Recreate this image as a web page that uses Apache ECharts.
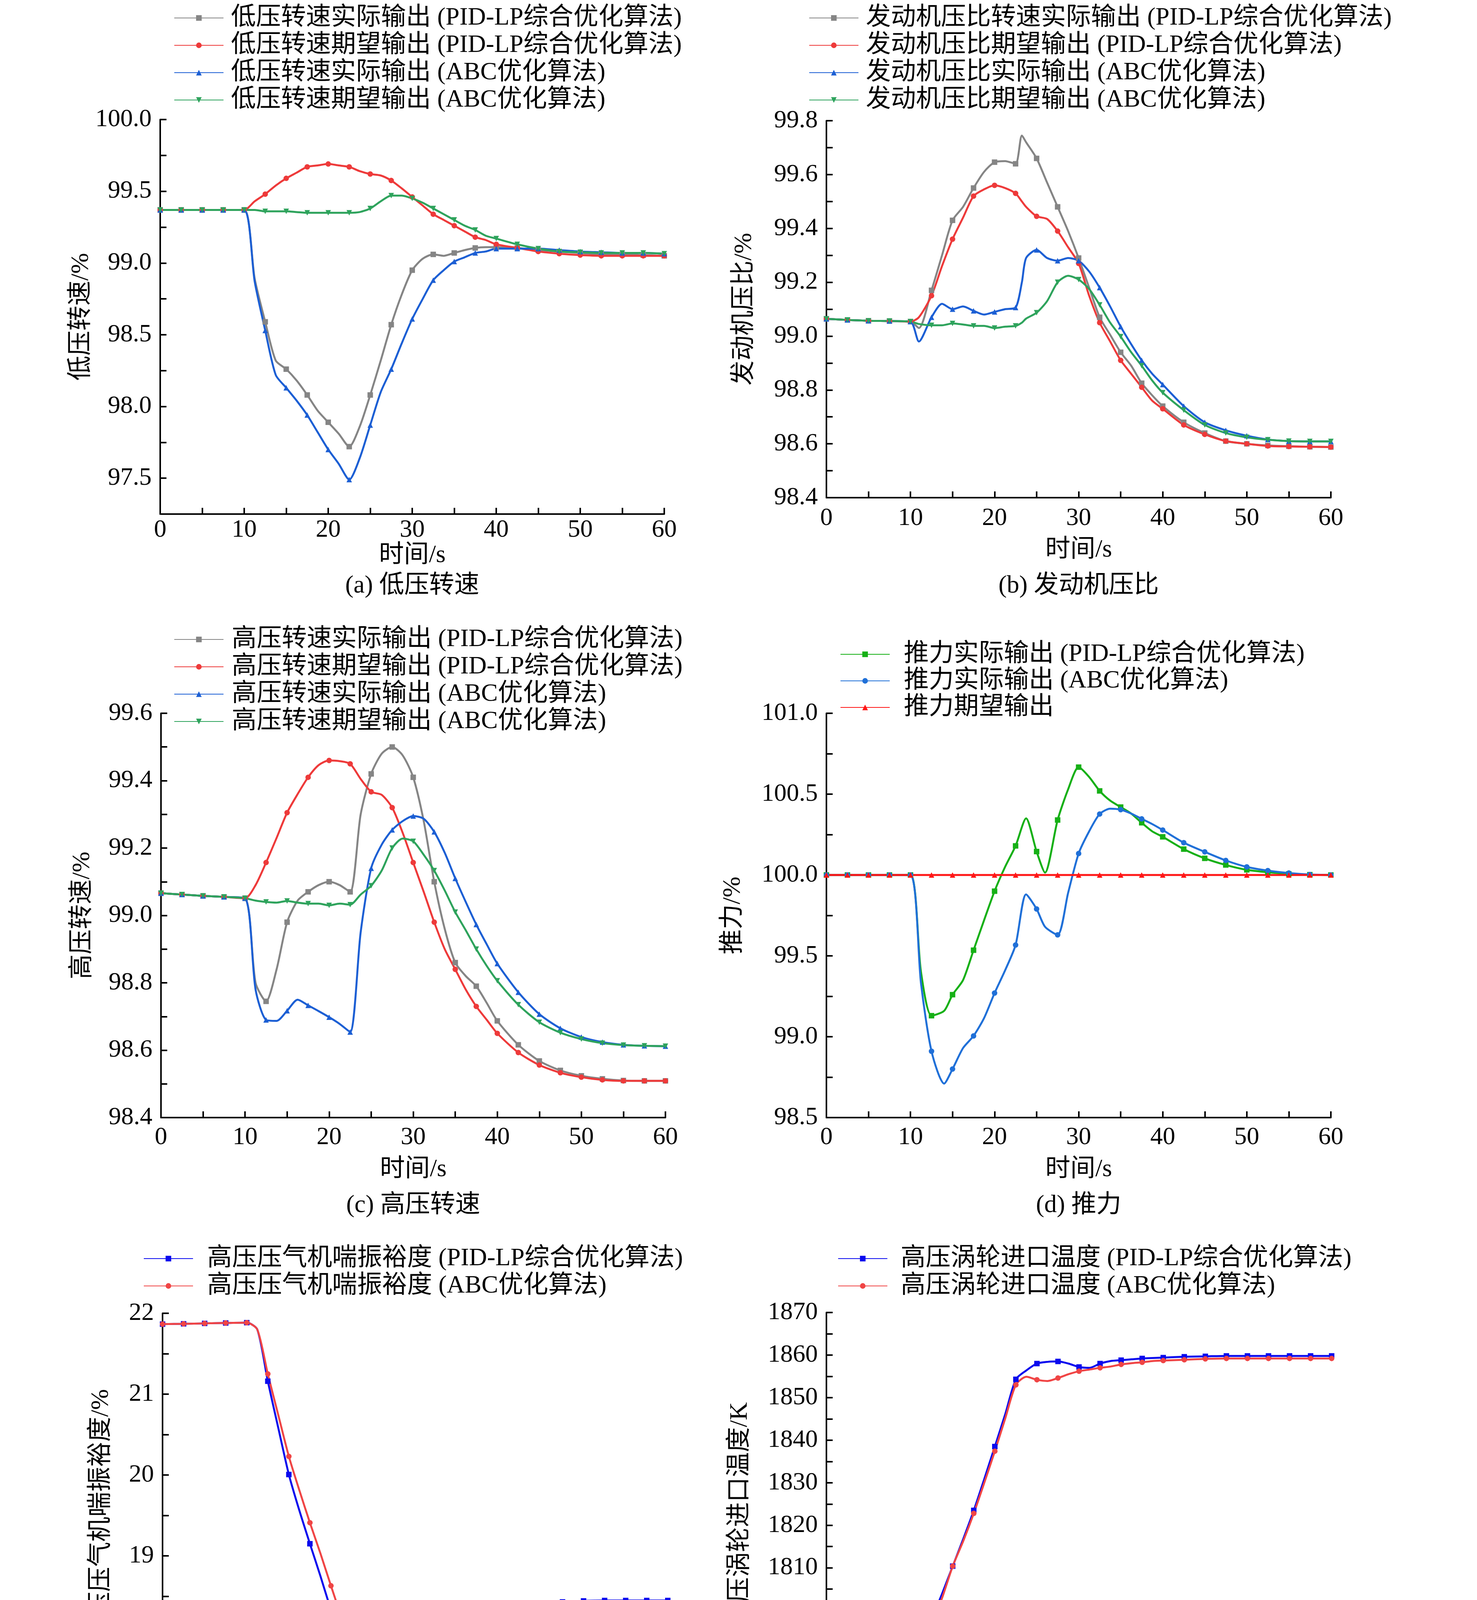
<!DOCTYPE html>
<html>
<head>
<meta charset="utf-8">
<title>控制效果对比</title>
<script src="https://cdn.jsdelivr.net/npm/echarts@6.0.0/dist/echarts.min.js"></script>
<style>
    html, body { margin: 0; padding: 0; background: #fff; }
    #main { width: 3780px; height: 7794px; }
</style>
</head>
<body>
<div id="main"></div>
<script>
    // 时间轴 (s)，符号只画在 2.5 s 的整数倍上
    var tStd = [0, 2.5, 5, 7.5, 10, 11.25, 12.5, 13.75, 15, 16.25, 17.5, 18.75, 20, 21.25, 22.5, 23.75, 25, 26.25, 27.5, 28.75, 30,
        31.25, 32.5, 33.75, 35, 36.25, 37.5, 38.75, 40, 42.5, 45, 47.5, 50, 52.5, 55, 57.5, 60];
    var tB = [0, 2.5, 5, 7.5, 10, 11, 12.5, 13.75, 15, 16.25, 17.5, 18.75, 20, 21.25, 22.5, 23.25, 23.75, 25, 26.25, 27.5, 28.75, 30,
        31.25, 32.5, 33.75, 35, 36.25, 37.5, 38.75, 40, 42.5, 45, 47.5, 50, 52.5, 55, 57.5, 60];
    var tD = [0, 2.5, 5, 7.5, 10, 11.25, 12.5, 14, 15, 16.25, 17.5, 18.75, 20, 21.25, 22.5, 23.75, 25, 26, 27.5, 28.75, 30,
        31.25, 32.5, 33.75, 35, 36.25, 37.5, 38.75, 40, 42.5, 45, 47.5, 50, 52.5, 55, 57.5, 60];
    var tE = [0, 2.5, 5, 7.5, 10, 11.25, 12.5, 13.75, 15, 16.25, 17.5, 18.75, 20, 21.25, 22.5, 23.25, 25, 26.25, 27.5, 28.75, 30,
        31.25, 32.5, 33.75, 35, 36.25, 37.5, 38.75, 40, 42.5, 45, 47.5, 50, 52.5, 55, 57.5, 60];

    // (a) 低压转速
    var aGray = [99.37, 99.37, 99.37, 99.37, 99.37, 98.89, 98.59, 98.32, 98.26, 98.18, 98.08, 97.97, 97.89, 97.81, 97.72, 97.86, 98.08, 98.32, 98.57, 98.78, 98.95,
        99.03, 99.06, 99.05, 99.07, 99.09, 99.105, 99.11, 99.11, 99.105, 99.09, 99.08, 99.07, 99.06, 99.06, 99.055, 99.05];
    var aRed = [99.37, 99.37, 99.37, 99.37, 99.37, 99.43, 99.48, 99.54, 99.59, 99.63, 99.67, 99.68, 99.69, 99.68, 99.67, 99.64, 99.62, 99.61, 99.575, 99.52, 99.46,
        99.40, 99.34, 99.30, 99.26, 99.22, 99.18, 99.16, 99.13, 99.105, 99.08, 99.065, 99.055, 99.05, 99.05, 99.05, 99.05];
    var aBlue = [99.37, 99.37, 99.37, 99.37, 99.37, 98.87, 98.53, 98.22, 98.13, 98.04, 97.94, 97.82, 97.70, 97.60, 97.49, 97.64, 97.87, 98.10, 98.26, 98.44, 98.61,
        98.75, 98.88, 98.95, 99.01, 99.04, 99.07, 99.08, 99.10, 99.10, 99.10, 99.09, 99.08, 99.075, 99.07, 99.07, 99.065];
    var aGreen = [99.37, 99.37, 99.37, 99.37, 99.37, 99.37, 99.36, 99.36, 99.36, 99.355, 99.35, 99.35, 99.35, 99.35, 99.35, 99.355, 99.38, 99.43, 99.47, 99.47, 99.45,
        99.42, 99.38, 99.34, 99.30, 99.26, 99.23, 99.19, 99.17, 99.13, 99.10, 99.08, 99.075, 99.07, 99.07, 99.07, 99.065];

    // (b) 发动机压比
    var bGray = [99.064, 99.06, 99.057, 99.056, 99.054, 99.03, 99.17, 99.30, 99.43, 99.48, 99.55, 99.61, 99.646, 99.65, 99.64, 99.745, 99.72, 99.66, 99.57, 99.48, 99.39, 99.29,
        99.18, 99.07, 99.005, 98.94, 98.89, 98.825, 98.78, 98.74, 98.68, 98.64, 98.61, 98.60, 98.594, 98.591, 98.589, 98.588];
    var bRed = [99.064, 99.06, 99.057, 99.056, 99.054, 99.07, 99.15, 99.26, 99.36, 99.44, 99.52, 99.545, 99.56, 99.55, 99.53, 99.50, 99.48, 99.445, 99.435, 99.39, 99.33, 99.27,
        99.15, 99.05, 98.98, 98.91, 98.86, 98.81, 98.76, 98.73, 98.67, 98.635, 98.61, 98.60, 98.592, 98.59, 98.589, 98.588];
    var bBlue = [99.064, 99.06, 99.057, 99.056, 99.054, 98.98, 99.07, 99.12, 99.10, 99.11, 99.094, 99.08, 99.09, 99.10, 99.106, 99.20, 99.29, 99.32, 99.29, 99.28, 99.29, 99.28,
        99.24, 99.18, 99.11, 99.035, 98.97, 98.91, 98.86, 98.82, 98.74, 98.68, 98.65, 98.63, 98.616, 98.61, 98.609, 98.609];
    var bGreen = [99.064, 99.06, 99.057, 99.056, 99.054, 99.045, 99.04, 99.04, 99.047, 99.043, 99.038, 99.038, 99.03, 99.035, 99.038, 99.05, 99.065, 99.087, 99.13, 99.20, 99.224, 99.21,
        99.175, 99.116, 99.05, 98.998, 98.94, 98.89, 98.835, 98.79, 98.725, 98.67, 98.64, 98.624, 98.615, 98.61, 98.609, 98.609];

    // (c) 高压转速
    var cGray = [99.066, 99.062, 99.058, 99.055, 99.051, 98.80, 98.745, 98.84, 98.98, 99.044, 99.07, 99.09, 99.10, 99.09, 99.07, 99.30, 99.42, 99.48, 99.50, 99.475, 99.41,
        99.28, 99.10, 98.96, 98.86, 98.82, 98.79, 98.74, 98.687, 98.616, 98.568, 98.54, 98.524, 98.515, 98.51, 98.509, 98.509];
    var cRed = [99.066, 99.062, 99.058, 99.055, 99.051, 99.09, 99.157, 99.23, 99.305, 99.36, 99.41, 99.446, 99.46, 99.458, 99.45, 99.405, 99.367, 99.358, 99.32, 99.245, 99.157,
        99.07, 98.98, 98.90, 98.84, 98.78, 98.73, 98.69, 98.65, 98.593, 98.556, 98.533, 98.52, 98.512, 98.509, 98.509, 98.509];
    var cBlue = [99.066, 99.062, 99.058, 99.055, 99.051, 98.78, 98.69, 98.687, 98.717, 98.75, 98.733, 98.716, 98.698, 98.678, 98.654, 98.95, 99.14, 99.21, 99.254, 99.28, 99.295,
        99.287, 99.248, 99.186, 99.11, 99.04, 98.973, 98.914, 98.857, 98.772, 98.707, 98.665, 98.639, 98.624, 98.616, 98.613, 98.612];
    var cGreen = [99.066, 99.062, 99.058, 99.055, 99.051, 99.044, 99.04, 99.038, 99.043, 99.038, 99.035, 99.035, 99.03, 99.035, 99.032, 99.062, 99.088, 99.133, 99.20, 99.228, 99.22,
        99.18, 99.133, 99.074, 99.01, 98.956, 98.90, 98.85, 98.806, 98.735, 98.683, 98.652, 98.633, 98.621, 98.615, 98.613, 98.612];

    // (d) 推力
    var dGreen = [100, 100, 100, 100, 100, 99.40, 99.13, 99.16, 99.26, 99.35, 99.535, 99.72, 99.90, 100.05, 100.18, 100.35, 100.145, 100.015, 100.34, 100.53, 100.667,
        100.606, 100.52, 100.46, 100.42, 100.38, 100.323, 100.27, 100.236, 100.16, 100.103, 100.062, 100.032, 100.017, 100.007, 100.002, 100.0];
    var dBlue = [100, 100, 100, 100, 100, 99.33, 98.91, 98.71, 98.80, 98.93, 99.005, 99.115, 99.27, 99.41, 99.567, 99.88, 99.79, 99.68, 99.63, 99.89, 100.133,
        100.27, 100.377, 100.41, 100.404, 100.38, 100.347, 100.315, 100.278, 100.20, 100.143, 100.09, 100.05, 100.027, 100.012, 100.003, 100.0];
    var dRed = [100, 100, 100, 100, 100, 100, 100, 100, 100, 100, 100, 100, 100, 100, 100, 100, 100, 100, 100, 100, 100,
        100, 100, 100, 100, 100, 100, 100, 100, 100, 100, 100, 100, 100, 100, 100, 100];

    // (e) 高压压气机喘振裕度
    var eBlue = [21.866, 21.87, 21.875, 21.88, 21.884, 21.80, 21.16, 20.58, 20.006, 19.56, 19.15, 18.75, 18.33, 17.94, 17.57, 17.41, 17.64, 17.685, 17.694, 17.67, 17.64,
        17.80, 17.95, 18.02, 18.09, 18.156, 18.216, 18.26, 18.30, 18.37, 18.41, 18.43, 18.443, 18.448, 18.448, 18.448, 18.448];
    var eRed = [21.866, 21.87, 21.875, 21.88, 21.884, 21.80, 21.25, 20.74, 20.23, 19.81, 19.41, 19.03, 18.63, 18.24, 17.86, 17.68, 17.53, 17.57, 17.60, 17.625, 17.65,
        17.70, 17.754, 17.84, 17.92, 17.985, 18.045, 18.10, 18.15, 18.23, 18.286, 18.32, 18.337, 18.346, 18.35, 18.35, 18.35];

    // (f) 高压涡轮进口温度
    var fBlue = [1784, 1784, 1784, 1784, 1784, 1788.2, 1797.7, 1804, 1810.4, 1816.8, 1823.5, 1830.9, 1838.5, 1846.2, 1854.3, 1856.4, 1858, 1858.4, 1858.5, 1858, 1857.2,
        1857.0, 1858, 1858.6, 1858.8, 1859, 1859.2, 1859.3, 1859.4, 1859.6, 1859.7, 1859.8, 1859.8, 1859.8, 1859.8, 1859.8, 1859.8];
    var fRed = [1784, 1784, 1784, 1784, 1784, 1787.7, 1796.5, 1803, 1810.4, 1816.3, 1822.8, 1830, 1837.4, 1845.2, 1853, 1854.9, 1854.2, 1853.9, 1854.6, 1855.5, 1856.2,
        1856.6, 1857, 1857.3, 1857.8, 1858.1, 1858.3, 1858.6, 1858.7, 1858.9, 1859.1, 1859.2, 1859.2, 1859.2, 1859.2, 1859.2, 1859.2];

    // (g) 主燃油流量
    var gBlue = [99.5, 99.5, 99.5, 99.5, 99.5, 99.70, 100.11, 100.47, 100.82, 101.21, 101.57, 102.0, 102.42, 102.86, 103.31, 103.58, 103.88, 104.06, 104.18, 104.23, 104.245,
        104.25, 104.29, 104.32, 104.33, 104.335, 104.335, 104.335, 104.33, 104.32, 104.317, 104.31, 104.305, 104.30, 104.295, 104.295, 104.295];
    var gRed = [99.5, 99.5, 99.5, 99.5, 99.5, 99.67, 99.97, 100.28, 100.58, 100.89, 101.19, 101.55, 101.92, 102.32, 102.72, 103.06, 103.31, 103.53, 103.73, 103.87, 104.01,
        104.10, 104.155, 104.19, 104.22, 104.25, 104.26, 104.265, 104.27, 104.27, 104.267, 104.255, 104.25, 104.245, 104.24, 104.235, 104.233];

    // (h) 尾喷管喉道截面面积
    var hBlue = [93.19, 93.19, 93.19, 93.19, 93.19, 93.17, 93.086, 93.12, 93.195, 93.29, 93.34, 93.38, 93.495, 93.64, 93.755, 93.90, 94.33, 94.63, 94.80, 94.93, 95.057,
        95.15, 95.21, 95.25, 95.297, 95.34, 95.375, 95.40, 95.427, 95.456, 95.47, 95.477, 95.48, 95.48, 95.48, 95.48, 95.48];
    var hRed = [93.19, 93.19, 93.19, 93.19, 93.19, 93.156, 93.09, 93.156, 93.247, 93.34, 93.425, 93.48, 93.555, 93.64, 93.73, 93.78, 94.17, 94.50, 94.67, 94.77, 94.86,
        94.966, 95.06, 95.15, 95.21, 95.266, 95.31, 95.35, 95.383, 95.427, 95.453, 95.466, 95.47, 95.47, 95.47, 95.47, 95.47];

    // (i) 后可调面积涵道引射器面积
    var iBlue = [186.23, 186.24, 186.25, 186.25, 186.26, 186.02, 185.41, 184.55, 183.69, 182.97, 182.28, 181.55, 180.79, 179.98, 179.19, 178.61, 178.38, 178.51, 178.86, 179.37, 179.88,
        180.39, 180.71, 180.92, 181.13, 181.30, 181.45, 181.57, 181.65, 181.79, 181.88, 181.92, 181.94, 181.95, 181.96, 181.96, 181.96];
    var iRed = [186.23, 186.24, 186.25, 186.25, 186.26, 186.04, 185.49, 184.75, 184.06, 183.43, 182.82, 182.21, 181.53, 180.84, 180.10, 179.47, 179.22, 179.37, 179.52, 179.64, 179.78,
        179.93, 180.13, 180.39, 180.62, 180.82, 181.0, 181.15, 181.27, 181.45, 181.58, 181.67, 181.72, 181.74, 181.75, 181.75, 181.75];

    var FONT = "'Liberation Serif', 'Noto Sans CJK SC', serif";
    var FS = 64;

    var GRAY = '#858585', RED = '#ee3a3a', BLUE = '#1c5fd4', GREEN = '#2ea35c';

    var panels = [
        {
            grid: [410, 306, 1290, 1010], y: [97.25, 100, 0.25, 0.5, 1], yName: '低压转速/%', yGap: 167, xMargin: 9, xGap: 70,
            title: '(a) 低压转速', titleY: 1500, legend: [440, 9, 6, 14],
            series: [
                ['低压转速实际输出 (PID-LP综合优化算法)', tStd, aGray, GRAY, 'rect', 0],
                ['低压转速期望输出 (PID-LP综合优化算法)', tStd, aRed, RED, 'circle', 0],
                ['低压转速实际输出 (ABC优化算法)', tStd, aBlue, BLUE, 'triangle', 0],
                ['低压转速期望输出 (ABC优化算法)', tStd, aGreen, GREEN, 'triangle', 180]
            ]
        },
        {
            grid: [2115, 309, 1291, 965], y: [98.4, 99.8, 0.1, 0.2, 1], yName: '发动机压比/%', yGap: 178, xMargin: 21, xGap: 102,
            title: '(b) 发动机压比', titleY: 1500, legend: [2065, 9, 6, 14],
            series: [
                ['发动机压比转速实际输出 (PID-LP综合优化算法)', tB, bGray, GRAY, 'rect', 0],
                ['发动机压比期望输出 (PID-LP综合优化算法)', tB, bRed, RED, 'circle', 0],
                ['发动机压比实际输出 (ABC优化算法)', tB, bBlue, BLUE, 'triangle', 0],
                ['发动机压比期望输出 (ABC优化算法)', tB, bGreen, GREEN, 'triangle', 180]
            ]
        },
        {
            grid: [412, 1826, 1291, 1035], y: [98.4, 99.6, 0.1, 0.2, 1], yName: '高压转速/%', yGap: 169, xMargin: 19, xGap: 101,
            title: '(c) 高压转速', titleY: 3086, legend: [440, 1600, 6, 16],
            series: [
                ['高压转速实际输出 (PID-LP综合优化算法)', tStd, cGray, GRAY, 'rect', 0],
                ['高压转速期望输出 (PID-LP综合优化算法)', tStd, cRed, RED, 'circle', 0],
                ['高压转速实际输出 (ABC优化算法)', tStd, cBlue, BLUE, 'triangle', 0],
                ['高压转速期望输出 (ABC优化算法)', tStd, cGreen, GREEN, 'triangle', 180]
            ]
        },
        {
            grid: [2115, 1826, 1291, 1035], y: [98.5, 101, 0.25, 0.5, 1], yName: '推力/%', yGap: 207, xMargin: 19, xGap: 101,
            title: '(d) 推力', titleY: 3086, legend: [2145, 1638, 4, 31],
            series: [
                ['推力实际输出 (PID-LP综合优化算法)', tD, dGreen, '#16b016', 'rect', 0],
                ['推力实际输出 (ABC优化算法)', tD, dBlue, '#2070d8', 'circle', 0],
                ['推力期望输出', tD, dRed, '#ff1616', 'triangle', 0]
            ]
        },
        {
            grid: [416, 3362, 1293, 1035], y: [17, 22, 0.5, 1, 0], yName: '高压压气机喘振裕度/%', yGap: 125, xMargin: 17, xGap: 99,
            title: '(e) 高压压气机喘振裕度', titleY: 4614, legend: [362, 3185, 6, 31],
            series: [
                ['高压压气机喘振裕度 (PID-LP综合优化算法)', tE, eBlue, '#0a0aee', 'rect', 0],
                ['高压压气机喘振裕度 (ABC优化算法)', tE, eRed, '#f04545', 'circle', 0]
            ]
        },
        {
            grid: [2115, 3360, 1293, 1035], y: [1775, 1870, 5, 10, 0], yName: '高压涡轮进口温度/K', yGap: 189, xMargin: 19, xGap: 101,
            title: '(f) 高压涡轮进口温度', titleY: 4614, legend: [2139, 3185, 6, 29],
            series: [
                ['高压涡轮进口温度 (PID-LP综合优化算法)', tStd, fBlue, '#0a0aee', 'rect', 0],
                ['高压涡轮进口温度 (ABC优化算法)', tStd, fRed, '#f04545', 'circle', 0]
            ]
        },
        {
            grid: [410, 4875, 1291, 1033], y: [99, 105, 0.5, 1, 0], yName: '主燃油流量/%', yGap: 173, xMargin: 25, xGap: 92,
            title: '(g) 主燃油流量', titleY: 6114, legend: [440, 4723, 18, 31],
            series: [
                ['主燃油流量 (PID-LP综合优化算法)', tStd, gBlue, '#1f6fe0', 'rect', 0],
                ['主燃油流量 (ABC优化算法)', tStd, gRed, '#f04545', 'circle', 0]
            ]
        },
        {
            grid: [2115, 4875, 1291, 1009], y: [92.75, 95.5, 0.25, 0.5, 1], yName: '尾喷管喉道截面面积/%', yGap: 189, xMargin: 21, xGap: 102,
            title: '(h) 尾喷管喉道截面面积', titleY: 6114, legend: [2065, 4723, 18, 31],
            series: [
                ['尾喷管喉道截面面积 (PID-LP综合优化算法)', tStd, hBlue, '#1f6fe0', 'rect', 0],
                ['尾喷管喉道截面面积 (ABC优化算法)', tStd, hRed, '#f04545', 'circle', 0]
            ]
        },
        {
            grid: [1355, 6396, 1291, 1138], y: [177, 188, 1, 2, 0], yName: '后可调面积涵道引射器面积/%', yGap: 155, xMargin: 20, xGap: 99,
            title: '(i) 后可调面积涵道引射器面积', titleY: 7754, legend: [1264, 6212, 18, 32],
            series: [
                ['后可调面积涵道引射器面积 (PID-LP综合优化算法)', tStd, iBlue, '#1f6fe0', 'rect', 0],
                ['后可调面积涵道引射器面积 (ABC优化算法)', tStd, iRed, '#f04545', 'circle', 0]
            ]
        }
    ];

    // 只在主刻度处显示标签
    function labelFmt(step, dec) {
        return function (v) {
            var k = v / step;
            return Math.abs(k - Math.round(k)) < 1e-6 ? v.toFixed(dec) : '';
        };
    }

    function markSize(v) {
        var k = v[0] / 2.5;
        return Math.abs(k - Math.round(k)) < 1e-6 ? 14 : 0;
    }

    var axisLineStyle = {color: '#000', width: 4};
    var grids = [], xAxes = [], yAxes = [], legends = [], series = [], texts = [];

    panels.forEach(function (p, idx) {
        var g = p.grid;
        grids.push({left: g[0], top: g[1], width: g[2], height: g[3], containLabel: false});
        xAxes.push({
            type: 'value', gridIndex: idx, min: 0, max: 60, interval: 5,
            axisLine: {onZero: false, lineStyle: axisLineStyle},
            axisTick: {inside: true, length: 16, lineStyle: {color: '#000', width: 4}},
            axisLabel: {margin: p.xMargin, color: '#000', fontSize: FS, fontFamily: FONT, formatter: labelFmt(10, 0)},
            splitLine: {show: false},
            name: '时间/s', nameLocation: 'middle', nameGap: p.xGap,
            nameTextStyle: {color: '#000', fontSize: FS, fontFamily: FONT}
        });
        yAxes.push({
            type: 'value', gridIndex: idx, min: p.y[0], max: p.y[1], interval: p.y[2],
            axisLine: {show: true, onZero: false, lineStyle: axisLineStyle},
            axisTick: {show: true, inside: true, length: 16, lineStyle: {color: '#000', width: 4}},
            axisLabel: {margin: 22, color: '#000', fontSize: FS, fontFamily: FONT, formatter: labelFmt(p.y[3], p.y[4])},
            splitLine: {show: false},
            name: p.yName, nameLocation: 'middle', nameGap: p.yGap,
            nameTextStyle: {color: '#000', fontSize: FS, fontFamily: FONT}
        });
        legends.push({
            left: p.legend[0], top: p.legend[1], orient: 'vertical',
            itemWidth: 126, itemHeight: 18, itemGap: p.legend[2],
            textStyle: {color: '#000', fontSize: FS, fontFamily: FONT, lineHeight: FS, padding: [0, 0, 0, p.legend[3]]},
            data: p.series.map(function (s) { return s[0]; })
        });
        p.series.forEach(function (s) {
            var times = s[1], vals = s[2];
            series.push({
                name: s[0], type: 'line', xAxisIndex: idx, yAxisIndex: idx,
                data: times.map(function (t, i) { return [t, vals[i]]; }),
                smooth: 0.25,
                symbol: s[4], symbolRotate: s[5], symbolSize: markSize, showAllSymbol: true,
                lineStyle: {color: s[3], width: 5},
                itemStyle: {color: s[3]}
            });
        });
        texts.push({
            type: 'text', x: g[0] + g[2] / 2, y: p.titleY,
            style: {text: p.title, fill: '#000', fontSize: FS, fontFamily: FONT, align: 'center', verticalAlign: 'middle'}
        });
    });

    var myChart = echarts.init(document.getElementById('main'));
    myChart.setOption({
        backgroundColor: '#fff',
        animation: false,
        grid: grids,
        xAxis: xAxes,
        yAxis: yAxes,
        legend: legends,
        series: series,
        graphic: texts
    });
</script>
</body>
</html>
